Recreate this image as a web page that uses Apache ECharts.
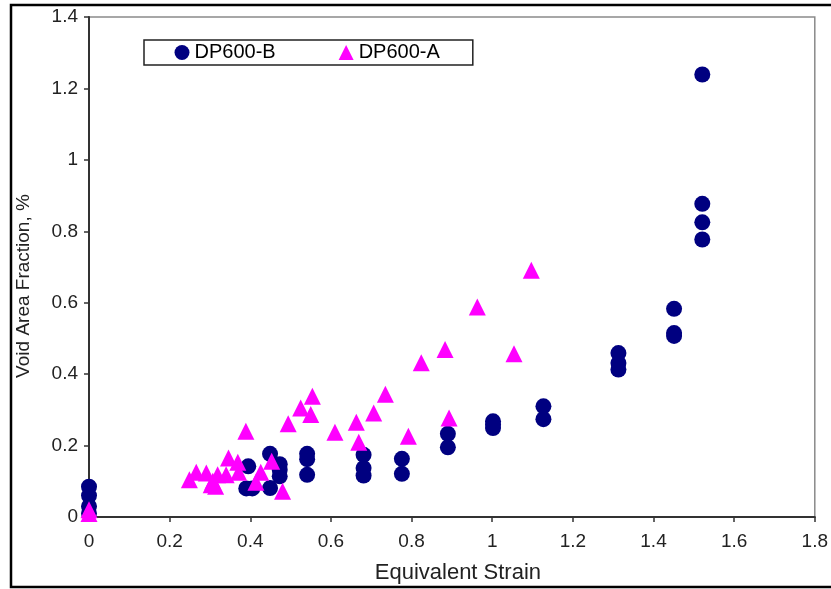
<!DOCTYPE html>
<html>
<head>
<meta charset="utf-8">
<script src="https://cdn.jsdelivr.net/npm/echarts@6/dist/echarts.min.js"></script>
<style>
  html, body { margin: 0; padding: 0; background: #fff; }
  #chart { width: 831px; height: 589px; }
</style>
</head>
<body>
<div id="chart"></div>
<script>
const xTicks = [0, 0.2, 0.4, 0.6, 0.8, 1, 1.2, 1.4, 1.6, 1.8];
const yTicks = [0, 0.2, 0.4, 0.6, 0.8, 1, 1.2, 1.4];

const seriesNames = ['DP600-B', 'DP600-A'];

const bStrain = [0, 0, 0, 0,
  0.395, 0.39, 0.405,
  0.449, 0.449,
  0.473, 0.473, 0.473,
  0.541, 0.541, 0.541,
  0.681, 0.681, 0.681,
  0.776, 0.776,
  0.89, 0.89,
  1.002, 1.002, 1.002,
  1.127, 1.127,
  1.313, 1.313, 1.313,
  1.451, 1.451, 1.451,
  1.521, 1.521, 1.521, 1.521];
const bVoid = [0.085, 0.06, 0.03, 0.01,
  0.142, 0.08, 0.08,
  0.177, 0.081,
  0.148, 0.132, 0.114,
  0.177, 0.162, 0.118,
  0.174, 0.137, 0.116,
  0.163, 0.121,
  0.233, 0.195,
  0.268, 0.259, 0.249,
  0.31, 0.274,
  0.459, 0.431, 0.413,
  0.583, 0.515, 0.507,
  1.239, 0.877, 0.825, 0.777];

const aStrain = [0, 0,
  0.249, 0.266, 0.291, 0.303, 0.307, 0.314, 0.319, 0.340, 0.346, 0.369, 0.371,
  0.389, 0.414, 0.426, 0.453, 0.480, 0.494, 0.525, 0.550, 0.554, 0.610,
  0.663, 0.669, 0.706, 0.735, 0.792, 0.824, 0.883, 0.893, 0.963, 1.054, 1.097];
const aVoid = [0.02, 0.01,
  0.104, 0.125, 0.123, 0.09, 0.1, 0.086, 0.118, 0.118, 0.165, 0.153, 0.125,
  0.240, 0.097, 0.125, 0.156, 0.072, 0.261, 0.305, 0.287, 0.338, 0.237,
  0.265, 0.209, 0.291, 0.344, 0.226, 0.432, 0.469, 0.277, 0.588, 0.457, 0.691];

const pairs = (xs, ys) => xs.map((x, i) => [x, ys[i]]);
const FONT = "'Liberation Sans', Arial, sans-serif";

const chart = echarts.init(document.getElementById('chart'), null, { renderer: 'canvas' });
chart.setOption({
  animation: false,
  backgroundColor: '#fff',
  grid: {
    left: 89, right: 14, top: 17, bottom: 72,
    show: true, borderColor: '#8a8a8a', borderWidth: 1.5, backgroundColor: '#fff'
  },
  legend: {
    left: 144, top: 40,
    padding: [2.5, 33, 2.5, 30.5],
    itemGap: 63, itemWidth: 15, itemHeight: 15,
    borderColor: '#222', borderWidth: 1.5, borderRadius: 0,
    backgroundColor: '#fff',
    data: seriesNames,
    textStyle: { fontFamily: FONT, fontSize: 20, color: '#000', padding: [0, 0, 0, 0] }
  },
  xAxis: {
    type: 'value', min: xTicks[0], max: xTicks[xTicks.length - 1], interval: 0.2,
    name: 'Equivalent Strain', nameLocation: 'middle', nameGap: 45,
    nameTextStyle: { fontFamily: FONT, fontSize: 22, color: '#222', padding: [0, 0, 0, 12] },
    axisLine: { show: true, onZero: false, lineStyle: { color: '#333', width: 2 } },
    axisTick: { show: true, inside: false, length: 5, lineStyle: { color: '#333', width: 1.5 } },
    axisLabel: { fontFamily: FONT, fontSize: 19, color: '#222', margin: 15,
      formatter: v => String(Math.round(v * 10) / 10) },
    splitLine: { show: false }
  },
  yAxis: {
    type: 'value', min: yTicks[0], max: yTicks[yTicks.length - 1], interval: 0.2,
    name: 'Void Area Fraction, %', nameLocation: 'middle', nameGap: 56,
    nameTextStyle: { fontFamily: FONT, fontSize: 19, color: '#222', padding: [0, 38, 0, 0] },
    axisLine: { show: true, onZero: false, lineStyle: { color: '#333', width: 2 } },
    axisTick: { show: true, inside: false, length: 5, lineStyle: { color: '#333', width: 1.5 } },
    axisLabel: { fontFamily: FONT, fontSize: 19, color: '#222', margin: 11,
      formatter: v => String(Math.round(v * 10) / 10) },
    splitLine: { show: false }
  },
  series: [
    {
      name: seriesNames[0], type: 'scatter', symbol: 'circle', symbolSize: 16,
      itemStyle: { color: '#000080', opacity: 1 },
      data: pairs(bStrain, bVoid), z: 2
    },
    {
      name: seriesNames[1], type: 'scatter', symbol: 'triangle', symbolSize: 17,
      itemStyle: { color: '#FF00FF', opacity: 1 },
      data: pairs(aStrain, aVoid), z: 3
    }
  ],
  graphic: [
    {
      type: 'rect', silent: true, z: 100,
      shape: { x: 11, y: 5, width: 832, height: 582 },
      style: { fill: 'none', stroke: '#000', lineWidth: 2.5 }
    }
  ]
});
</script>
</body>
</html>
